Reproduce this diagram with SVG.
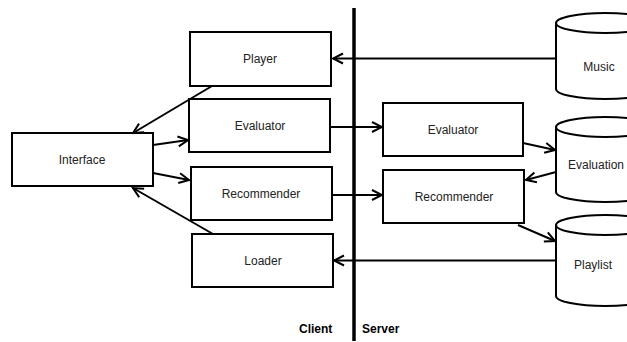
<svg xmlns="http://www.w3.org/2000/svg" width="627" height="342" viewBox="0 0 627 342">
<style>
.box{fill:#fff;stroke:#000;stroke-width:2}
.cyl{fill:#fff;stroke:#000;stroke-width:2}
.t{font-family:"Liberation Sans",Arial,sans-serif;font-size:12px;fill:#222;text-anchor:middle}
.b{font-family:"Liberation Sans",Arial,sans-serif;font-size:12px;font-weight:bold;fill:#000}
.c{stroke:#000;stroke-width:2;fill:none;marker-end:url(#ah)}
</style>
<defs>
<marker id="ah" markerUnits="userSpaceOnUse" viewBox="0 0 14 14" refX="12" refY="7" markerWidth="14" markerHeight="14" orient="auto">
<path d="M2,2 L12,7 L2,12" fill="none" stroke="#000" stroke-width="2"/>
</marker>
</defs>
<rect width="627" height="342" fill="#fff"/>
<line x1="354" y1="8" x2="354" y2="341" stroke="#000" stroke-width="3.5"/>
<g id="player"><rect class="box" x="190" y="32" width="141" height="54"/><text class="t" x="260" y="63">Player</text></g>
<g id="evaluator-client"><rect class="box" x="189" y="99" width="141" height="53"/><text class="t" x="260" y="130">Evaluator</text></g>
<g id="recommender-client"><rect class="box" x="191" y="167" width="141" height="53"/><text class="t" x="261" y="198">Recommender</text></g>
<g id="loader"><rect class="box" x="192" y="234" width="141" height="53"/><text class="t" x="263" y="265">Loader</text></g>
<g id="interface"><rect class="box" x="12" y="133" width="141" height="53"/><text class="t" x="82" y="164">Interface</text></g>
<g id="evaluator-server"><rect class="box" x="383" y="103" width="140" height="53"/><text class="t" x="453" y="134">Evaluator</text></g>
<g id="recommender-server"><rect class="box" x="383" y="170" width="141" height="53"/><text class="t" x="454" y="201">Recommender</text></g>
<g id="music">
<path class="cyl" d="M556,23 A49,10 0 0,1 654,23 L654,89 A49,10 0 0,1 556,89 Z"/>
<path class="cyl" d="M556,23 A49,10 0 0,0 654,23" fill="none"/>
<text class="t" x="599" y="71">Music</text></g>
<g id="evaluation">
<path class="cyl" d="M556,127 A49,10 0 0,1 654,127 L654,192 A49,10 0 0,1 556,192 Z"/>
<path class="cyl" d="M556,127 A49,10 0 0,0 654,127" fill="none"/>
<text class="t" x="596" y="169">Evaluation</text></g>
<g id="playlist">
<path class="cyl" d="M556,225 A49,10 0 0,1 654,225 L654,296 A49,10 0 0,1 556,296 Z"/>
<path class="cyl" d="M556,225 A49,10 0 0,0 654,225" fill="none"/>
<text class="t" x="593" y="269">Playlist</text></g>
<g id="connectors">
<line class="c" x1="556" y1="58.5" x2="333" y2="58.5"/>
<line class="c" x1="212" y1="86" x2="133" y2="133"/>
<line class="c" x1="153" y1="145" x2="188" y2="140"/>
<line class="c" x1="153" y1="173" x2="189" y2="180"/>
<line class="c" x1="213" y1="234" x2="133" y2="188"/>
<line class="c" x1="330" y1="127" x2="382" y2="127"/>
<line class="c" x1="332" y1="195" x2="382" y2="195"/>
<line class="c" x1="523" y1="143" x2="555" y2="150"/>
<line class="c" x1="556" y1="172" x2="526" y2="180"/>
<line class="c" x1="518" y1="225" x2="555" y2="241"/>
<line class="c" x1="556" y1="260.5" x2="334" y2="260.5"/>
</g>
<text class="b" x="299" y="333">Client</text>
<text class="b" x="362" y="333">Server</text>
</svg>
